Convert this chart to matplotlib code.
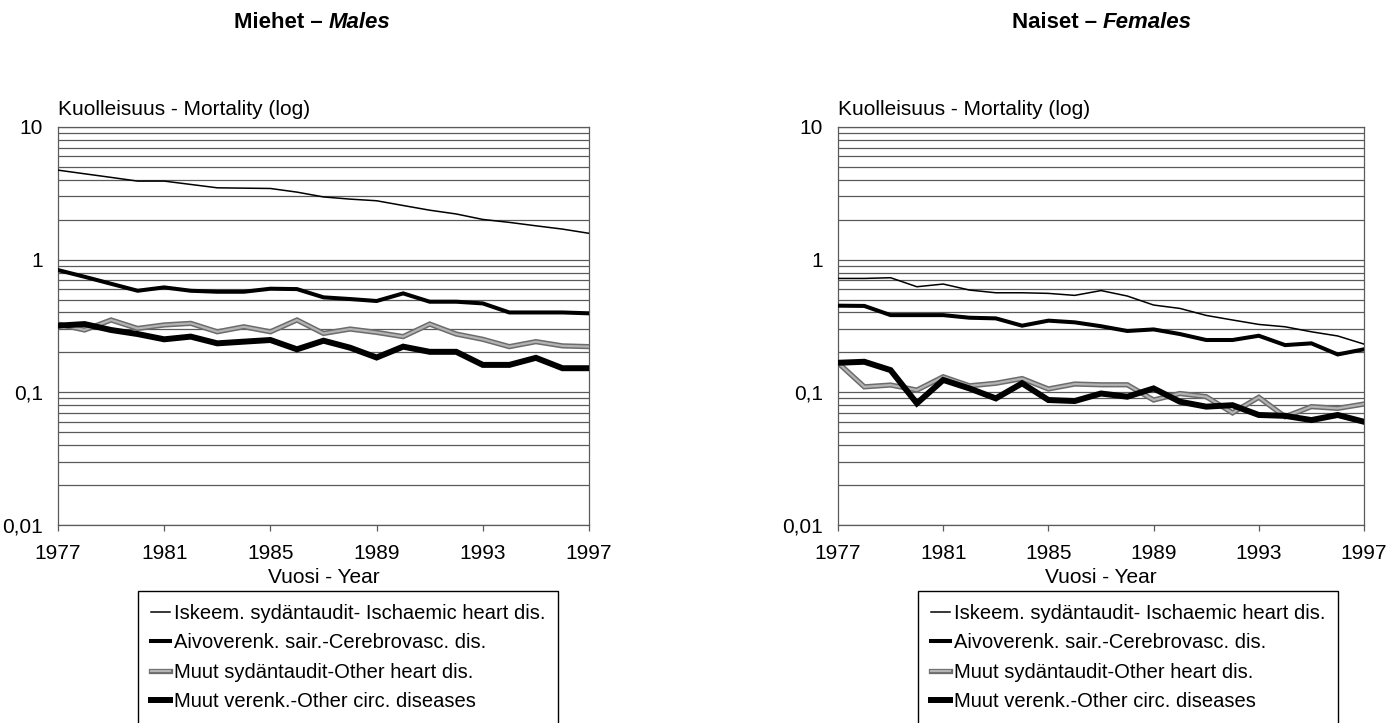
import matplotlib
matplotlib.use("Agg")
import matplotlib.pyplot as plt
import matplotlib.patheffects as pe
from matplotlib.ticker import FixedLocator, LogLocator, NullFormatter, FuncFormatter

plt.rcParams['font.family'] = ['Liberation Sans', 'DejaVu Sans']
FS = 15
LFS = 14.5

years = list(range(1977, 1998))
xticks = [1977, 1981, 1985, 1989, 1993, 1997]

labels = ["Iskeem. sydäntaudit- Ischaemic heart dis.",
          "Aivoverenk. sair.-Cerebrovasc. dis.",
          "Muut sydäntaudit-Other heart dis.",
          "Muut verenk.-Other circ. diseases"]

# Males
m_ischaemic = [4.73, 4.44, 4.17, 3.91, 3.91, 3.69, 3.48, 3.46, 3.44, 3.23, 2.97,
               2.86, 2.78, 2.56, 2.36, 2.21, 2.01, 1.91, 1.80, 1.70, 1.58]
m_cerebro = [0.835, 0.743, 0.658, 0.583, 0.618, 0.583, 0.573, 0.573, 0.604, 0.600, 0.520,
             0.505, 0.488, 0.557, 0.482, 0.482, 0.468, 0.400, 0.400, 0.400, 0.394]
m_otherheart = [0.327, 0.295, 0.351, 0.303, 0.322, 0.331, 0.286, 0.312, 0.286, 0.351, 0.278,
                0.300, 0.283, 0.263, 0.327, 0.275, 0.251, 0.221, 0.241, 0.224, 0.221]
m_othercirc = [0.318, 0.327, 0.295, 0.275, 0.251, 0.263, 0.234, 0.241, 0.248, 0.211, 0.245,
               0.217, 0.183, 0.221, 0.202, 0.202, 0.161, 0.161, 0.182, 0.152, 0.152]

# Females
f_ischaemic = [0.722, 0.722, 0.731, 0.625, 0.655, 0.590, 0.563, 0.563, 0.557, 0.538, 0.585,
               0.532, 0.455, 0.429, 0.380, 0.351, 0.325, 0.312, 0.286, 0.266, 0.231]
f_cerebro = [0.450, 0.448, 0.382, 0.382, 0.382, 0.365, 0.361, 0.318, 0.347, 0.337, 0.315,
             0.290, 0.298, 0.275, 0.248, 0.248, 0.267, 0.227, 0.234, 0.193, 0.211]
f_otherheart = [0.167, 0.110, 0.1135, 0.104, 0.131, 0.112, 0.117, 0.127, 0.106, 0.1155, 0.114,
                0.114, 0.0875, 0.098, 0.0927, 0.070, 0.0918, 0.0655, 0.078, 0.0757, 0.0816]
f_othercirc = [0.167, 0.170, 0.147, 0.0826, 0.124, 0.107, 0.090, 0.117, 0.0875, 0.086, 0.098,
               0.0927, 0.107, 0.085, 0.078, 0.080, 0.0675, 0.0665, 0.0618, 0.0675, 0.060]

W, H = 1397, 723
fig = plt.figure(figsize=(W / 100, H / 100), dpi=100)

GRID = '#5a5a5a'


def fmt(v, pos):
    return {10: "10", 1: "1", 0.1: "0,1", 0.01: "0,01"}.get(round(v, 4), "")


def panel(ax, series, title_a, title_b, title_x):
    styles = [
        dict(color='black', lw=1.1),
        dict(color='black', lw=2.9),
        dict(color='#b4b4b4', lw=1.6,
             path_effects=[pe.Stroke(linewidth=3.8, foreground='#6c6c6c'), pe.Normal()]),
        dict(color='black', lw=4.3),
    ]
    for vals, lab, st in zip(series, labels, styles):
        ax.plot(years, vals, label=lab, solid_joinstyle='miter', zorder=3, **st)
    ax.set_yscale('log')
    ax.set_xlim(1977, 1997)
    ax.set_ylim(0.01, 10)
    ax.yaxis.set_major_locator(LogLocator(base=10, numticks=10))
    ax.yaxis.set_minor_locator(LogLocator(base=10, subs=range(2, 10), numticks=10))
    ax.yaxis.set_major_formatter(FuncFormatter(fmt))
    ax.yaxis.set_minor_formatter(NullFormatter())
    ax.yaxis.grid(True, which='both', color=GRID, lw=0.9)
    ax.set_axisbelow(True)
    ax.xaxis.set_major_locator(FixedLocator(xticks))
    ax.tick_params(axis='x', direction='out', length=4.5, width=0.9, color=GRID,
                   labelsize=FS, pad=9)
    ax.tick_params(axis='y', which='both', length=0, labelsize=FS, pad=11)
    for s in ax.spines.values():
        s.set_color(GRID)
        s.set_linewidth(0.9)
    ax.set_xlabel("Vuosi - Year", fontsize=FS, labelpad=4)
    bb = ax.get_position()
    fig.text(bb.x0, 1 - 115 / H, "Kuolleisuus - Mortality (log)", fontsize=FS,
             ha='left', va='baseline')
    leg = ax.legend(loc='upper left', bbox_to_anchor=((bb.x0 * W + 80) / W, 1 - 591 / H),
                    bbox_transform=fig.transFigure, borderaxespad=0, fontsize=LFS,
                    handlelength=0.95, handletextpad=0.2, labelspacing=0.52,
                    borderpad=0.63, fancybox=False, framealpha=1, edgecolor='black')
    leg.get_frame().set_linewidth(1.0)
    # title with mixed style
    t1 = fig.text(0, 1 - 23 / H, title_a, fontsize=16, fontweight='bold', ha='left', va='center')
    t2 = fig.text(0, 1 - 23 / H, title_b, fontsize=16, fontweight='bold', style='italic',
                  ha='left', va='center')
    r = fig.canvas.get_renderer()
    w1 = t1.get_window_extent(r).width
    w2 = t2.get_window_extent(r).width
    start = title_x - (w1 + w2) / 2
    t1.set_x(start / W)
    t2.set_x((start + w1) / W)


axL = fig.add_axes([58 / W, 1 - 525 / H, (589 - 58) / W, (525 - 127) / H])
axR = fig.add_axes([838 / W, 1 - 525 / H, (1364 - 838) / W, (525 - 127) / H])

panel(axL, [m_ischaemic, m_cerebro, m_otherheart, m_othercirc], "Miehet – ", "Males", 312)
panel(axR, [f_ischaemic, f_cerebro, f_otherheart, f_othercirc], "Naiset – ", "Females", 1102)

fig.savefig("out.png", dpi=100)
